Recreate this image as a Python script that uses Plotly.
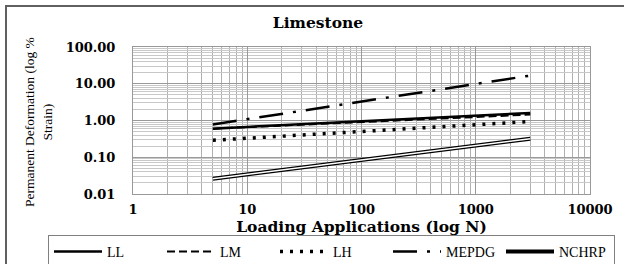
import plotly.graph_objects as go

# Data
loading_N = [5, 3000]
LL = [0.60, 1.60]
LM = [0.60, 1.45]
LH = [0.29, 0.94]
MEPDG = [0.78, 16.7]
NCHRP = [0.026, 0.32]

y_tickvals = [0.01, 0.1, 1, 10, 100]
y_ticktext = ["0.01", "0.10", "1.00", "10.00", "100.00"]
x_tickvals = [1, 10, 100, 1000, 10000]
x_ticktext = ["1", "10", "100", "1000", "10000"]

W, H = 624, 264
L, R, T, B = 133, 34, 47, 70
PW, PH = W - L - R, H - T - B

def px_x(p):
    return (p - L) / PW

def px_y(p):
    return (H - B - p) / PH

fig = go.Figure()
fig.add_trace(go.Scatter(x=loading_N, y=LM, mode="lines", name="LM", legendrank=2,
                         line=dict(color="black", width=2, dash="8px,4px")))
fig.add_trace(go.Scatter(x=loading_N, y=LL, mode="lines", name="LL", legendrank=1,
                         line=dict(color="black", width=2.5)))
fig.add_trace(go.Scatter(x=loading_N, y=LH, mode="lines", name="LH", legendrank=3,
                         line=dict(color="black", width=3.5, dash="3px,7px")))
fig.add_trace(go.Scatter(x=loading_N, y=MEPDG, mode="lines", name="MEPDG", legendrank=4,
                         line=dict(color="black", width=2.5, dash="24px,10px,3px,10px")))
fig.add_trace(go.Scatter(x=loading_N, y=NCHRP, mode="lines", name="NCHRP", legendrank=5,
                         line=dict(color="black", width=4)))
fig.add_trace(go.Scatter(x=loading_N, y=NCHRP, mode="lines", name="NCHRP",
                         showlegend=False, line=dict(color="white", width=1.5)))

bold_serif = dict(family="DejaVu Serif", size=13, color="black", weight="bold")

fig.update_layout(
    width=W, height=H,
    margin=dict(l=L, r=R, t=T, b=B, pad=0, autoexpand=False),
    paper_bgcolor="white", plot_bgcolor="white",
    showlegend=True,
    legend=dict(orientation="h", x=px_x(48), xanchor="left", y=px_y(235), yanchor="top",
                bordercolor="#808080", borderwidth=1,
                font=dict(family="Liberation Serif", size=14, color="black"),
                traceorder="normal", entrywidth=50, entrywidthmode="pixels",
                itemwidth=48, tracegroupgap=0),
    title=dict(text="<b>Limestone</b>", xref="container", x=318 / W, xanchor="center",
               y=1 - 23 / H, yanchor="middle",
               font=dict(family="DejaVu Serif", size=15.5, color="black")),
    xaxis=dict(type="log", range=[0, 4], tickvals=x_tickvals, ticktext=x_ticktext,
               tickfont=bold_serif,
               showgrid=True, gridcolor="#999999", gridwidth=1,
               minor=dict(showgrid=True, gridcolor="#b0b0b0", gridwidth=1,
                          tickvals=[m * 10 ** d for d in range(4) for m in range(2, 10)]),
               showline=True, linecolor="#999999", linewidth=1, mirror=True,
               ticks="", ticklen=0, ticklabelstandoff=3, zeroline=False,
               title=dict(text="<b>Loading Applications (log N)</b>", standoff=2,
                          font=dict(family="DejaVu Serif", size=15.5, color="black"))),
    yaxis=dict(type="log", range=[-2, 2], tickvals=y_tickvals, ticktext=y_ticktext,
               tickfont=bold_serif,
               showgrid=True, gridcolor="#999999", gridwidth=1,
               minor=dict(showgrid=True, gridcolor="#c8c8c8", gridwidth=1,
                          tickvals=[m * 10 ** d for d in range(-2, 2) for m in range(2, 10)]),
               showline=True, linecolor="#999999", linewidth=1, mirror=True,
               ticks="", ticklen=0, ticklabelstandoff=14, zeroline=False),
    annotations=[dict(text="Permanent Deformation (log %<br>Strain)", textangle=-90,
                      xref="paper", yref="paper", x=px_x(38), y=px_y(122),
                      xanchor="center", yanchor="middle", showarrow=False,
                      font=dict(family="Liberation Serif", size=13.5, color="black"))],
    shapes=[dict(type="rect", xref="paper", yref="paper",
                 x0=px_x(6), x1=px_x(640), y0=px_y(280), y1=px_y(6),
                 line=dict(color="#606060", width=2), fillcolor="rgba(0,0,0,0)", layer="below")],
)

fig.write_html("out.html", config={"displayModeBar": False},
               post_script="document.body.style.margin='0px';")
